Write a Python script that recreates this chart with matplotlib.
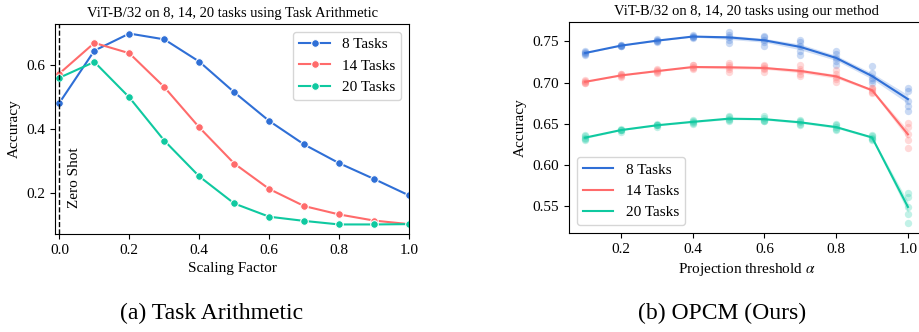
"""
Task Arithmetic vs OPCM: accuracy sweeps on ViT-B/32
"""
import numpy as np
import matplotlib
matplotlib.use("Agg")
import matplotlib.pyplot as plt

plt.rcParams["font.family"] = ["Liberation Serif", "DejaVu Serif"]
plt.rcParams["mathtext.fontset"] = "stix"
plt.rcParams["font.size"] = 11

# colours / labels
colors = ["#2f6fd6", "#ff6b6b", "#0fc9a0"]
labels = ["8 Tasks", "14 Tasks", "20 Tasks"]

# (a) task arithmetic, scaling factor sweep
scaling = [0.0, 0.1, 0.2, 0.3, 0.4, 0.5, 0.6, 0.7, 0.8, 0.9, 1.0]
ta_8 = [0.481, 0.643, 0.696, 0.678, 0.609, 0.514, 0.425, 0.352, 0.294, 0.245, 0.194]
ta_14 = [0.572, 0.667, 0.635, 0.530, 0.405, 0.293, 0.214, 0.161, 0.135, 0.116, 0.105]
ta_20 = [0.559, 0.608, 0.498, 0.364, 0.253, 0.169, 0.128, 0.115, 0.104, 0.104, 0.105]

# (b) OPCM, projection threshold sweep (one row per alpha, one column per run)
alphas = [0.1, 0.2, 0.3, 0.4, 0.5, 0.6, 0.7, 0.8, 0.9, 1.0]
opcm_8 = [
    [0.734, 0.736, 0.737, 0.738, 0.735],
    [0.744, 0.745, 0.746, 0.744, 0.746],
    [0.749, 0.751, 0.753, 0.750, 0.752],
    [0.754, 0.757, 0.758, 0.755, 0.756],
    [0.748, 0.752, 0.755, 0.758, 0.762],
    [0.744, 0.749, 0.752, 0.755, 0.757],
    [0.733, 0.738, 0.745, 0.749, 0.752],
    [0.721, 0.726, 0.730, 0.735, 0.738],
    [0.699, 0.703, 0.706, 0.712, 0.720],
    [0.666, 0.672, 0.678, 0.690, 0.694],
]
opcm_14 = [
    [0.699, 0.701, 0.702, 0.703, 0.700],
    [0.707, 0.709, 0.710, 0.708, 0.710],
    [0.712, 0.714, 0.716, 0.713, 0.715],
    [0.716, 0.719, 0.721, 0.718, 0.721],
    [0.713, 0.716, 0.719, 0.721, 0.724],
    [0.713, 0.716, 0.718, 0.720, 0.722],
    [0.708, 0.711, 0.714, 0.717, 0.721],
    [0.701, 0.705, 0.707, 0.710, 0.715],
    [0.687, 0.689, 0.691, 0.693, 0.694],
    [0.621, 0.630, 0.638, 0.646, 0.651],
]
opcm_20 = [
    [0.630, 0.632, 0.633, 0.635, 0.636],
    [0.640, 0.642, 0.643, 0.644, 0.643],
    [0.646, 0.648, 0.649, 0.650, 0.648],
    [0.650, 0.651, 0.652, 0.654, 0.655],
    [0.653, 0.655, 0.656, 0.658, 0.659],
    [0.653, 0.654, 0.655, 0.657, 0.659],
    [0.648, 0.650, 0.652, 0.654, 0.655],
    [0.642, 0.644, 0.646, 0.648, 0.650],
    [0.630, 0.632, 0.633, 0.635, 0.637],
    [0.529, 0.540, 0.549, 0.561, 0.566],
]


def main():
    fig = plt.figure(figsize=(9.2, 3.32), dpi=100)
    ax1 = fig.add_axes([0.0598, 0.2952, 0.3848, 0.6325])
    ax2 = fig.add_axes([0.6185, 0.2982, 0.3859, 0.6355])

    # --- (a) Task Arithmetic
    for ys, c, lab in zip([ta_8, ta_14, ta_20], colors, labels):
        ax1.plot(scaling, ys, color=c, lw=1.5, marker="o", ms=5.5,
                 mec="white", mew=0.75, label=lab)
    ax1.axvline(0.0, color="black", ls="--", lw=1)
    ax1.text(0.025, 0.155, "Zero Shot", rotation=90, ha="left", va="bottom")
    ax1.set_xlim(-0.0125, 1.0)
    ax1.set_xlabel("Scaling Factor")
    ax1.set_ylabel("Accuracy")
    ax1.set_title("ViT-B/32 on 8, 14, 20 tasks using Task Arithmetic",
                  fontsize=10.5, pad=5)
    ax1.legend(loc="upper right")

    # --- (b) OPCM
    for runs, c, lab in zip([opcm_8, opcm_14, opcm_20], colors, labels):
        runs = np.array(runs)
        mean = runs.mean(axis=1)
        sem = runs.std(axis=1, ddof=1) / np.sqrt(runs.shape[1])
        xs = np.repeat(alphas, runs.shape[1])
        ax2.scatter(xs, runs.ravel(), s=28, color=c, alpha=0.25, lw=0)
        ax2.fill_between(alphas, mean - sem, mean + sem, color=c, alpha=0.22, lw=0)
        ax2.plot(alphas, mean, color=c, lw=1.5, label=lab)
    ax2.set_xlabel(r"Projection threshold $\alpha$")
    ax2.set_ylabel("Accuracy")
    ax2.set_title("ViT-B/32 on 8, 14, 20 tasks using our method",
                  fontsize=10.5, pad=5)
    ax2.set_xticks([0.2, 0.4, 0.6, 0.8, 1.0])
    ax2.set_yticks([0.55, 0.60, 0.65, 0.70, 0.75])
    ax2.legend(loc="lower left")

    # subfigure captions
    fig.text(212 / 920, 1 - 313 / 332, "(a) Task Arithmetic", fontsize=17,
             ha="center", va="center")
    fig.text(722 / 920, 1 - 313 / 332, "(b) OPCM (Ours)", fontsize=17,
             ha="center", va="center")

    fig.savefig("out.png", dpi=100)


if __name__ == "__main__":
    main()
